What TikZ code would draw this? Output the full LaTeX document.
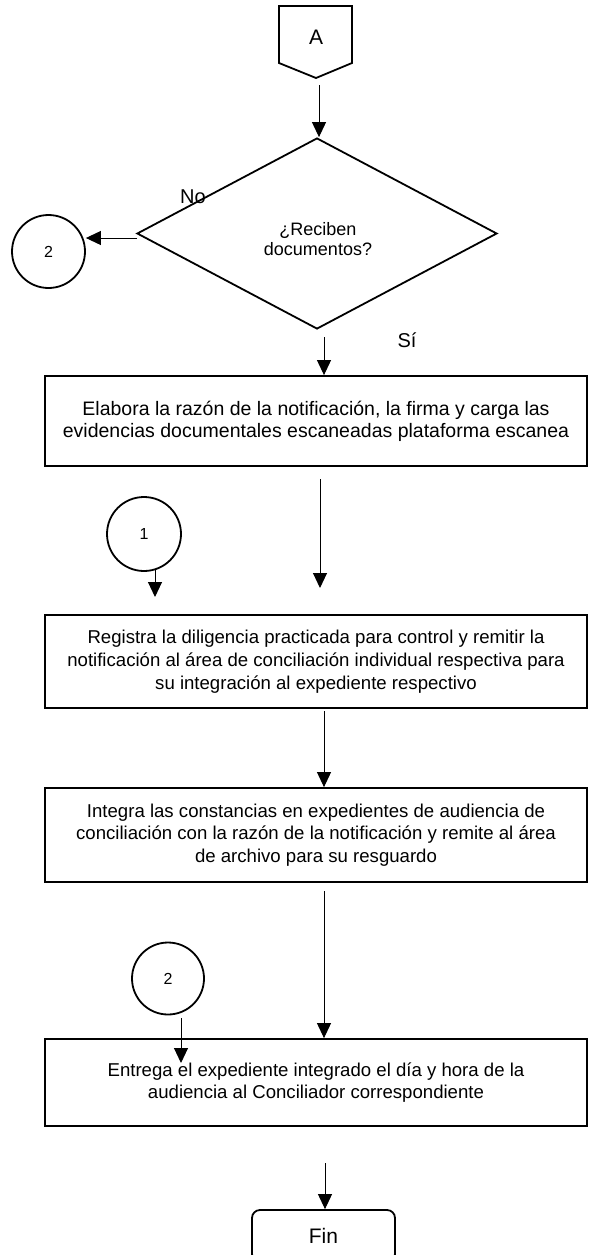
\documentclass[tikz,border=0pt]{standalone}
\usepackage{fontspec}
\setmainfont{Liberation Sans}
\usetikzlibrary{shapes.geometric,arrows.meta}
\begin{document}
\begin{tikzpicture}[x=1pt,y=-1pt,
  shapeline/.style={draw=black, line width=1.8pt},
  arr/.style={draw=black, line width=1pt, -{Triangle[width=14pt,length=15pt]}},
  procbox/.style={shapeline, rectangle, minimum width=542pt, inner sep=0pt, align=center,
    font=\fontsize{18.6}{22.8}\selectfont},
  conn/.style={shapeline, circle, inner sep=0pt, font=\fontsize{16}{18}\selectfont},
  lbl/.style={font=\fontsize{20}{24}\selectfont, inner sep=0pt}
]
\useasboundingbox (0,0) rectangle (589,1255);

% off-page connector A
\draw[shapeline, line join=miter] (279,6) -- (352,6) -- (352,63) -- (316,78) -- (279,63) -- cycle;
\node[lbl, font=\fontsize{21}{24}\selectfont] (A) at (316,37) {A};

% decision
\node[diamond, shapeline, minimum width=360pt, minimum height=191pt, inner sep=0pt] (dec) at (317,233.5) {};
\node[align=center, inner sep=0pt, font=\fontsize{18}{20.5}\selectfont] (dectxt) at (318,239) {¿Reciben\\documentos?};
\node[lbl] (no) at (193,197) {No};
\node[lbl] (si) at (407,340) {Sí};

% connector circles
\node[conn, minimum size=73pt] (c2a) at (48.5,251.5) {2};
\node[conn, minimum size=74pt] (c1) at (144,534) {1};
\node[conn, minimum size=72pt] (c2b) at (168,978.5) {2};

% process boxes
\node[procbox, minimum height=90pt, font=\fontsize{19.5}{22}\selectfont] (b1) at (316,421)
  {Elabora la razón de la notificación, la firma y carga las\\evidencias documentales escaneadas plataforma escanea};
\node[procbox, minimum height=93pt] (b2) at (316,661.5)
  {Registra la diligencia practicada para control y remitir la\\notificación al área de conciliación individual respectiva para\\su integración al expediente respectivo};
\node[procbox, minimum height=94pt] (b3) at (316,835)
  {Integra las constancias en expedientes de audiencia de\\conciliación con la razón de la notificación y remite al área\\de archivo para su resguardo};
\node[procbox, minimum height=87pt] (b4) at (316,1082.5)
  {Entrega el expediente integrado el día y hora de la\\audiencia al Conciliador correspondiente};
\node[shapeline, rectangle, rounded corners=8pt, minimum width=143pt, minimum height=52pt,
  inner sep=0pt, font=\fontsize{21}{24}\selectfont] (fin) at (323.5,1236) {Fin};

% connector end points
\coordinate (a0) at (319,85);
\coordinate (n0) at (137,238);
\coordinate (s1) at (324,337);
\coordinate (s2) at (320,479);
\coordinate (e2) at (320,588);
\coordinate (s3) at (155,570);
\coordinate (e3) at (155,597);
\coordinate (s4) at (324,711);
\coordinate (s5) at (324,891);
\coordinate (s6) at (181,1018);
\coordinate (e6) at (181,1063);
\coordinate (s7) at (325,1163);

% connectors
\draw[arr] (a0) -- (a0 |- dec.north);
\draw[arr] (n0) -- (n0 -| c2a.east);
\draw[arr] (s1) -- (s1 |- b1.north);
\draw[arr] (s2) -- (e2);
\draw[arr] (s3) -- (e3);
\draw[arr] (s4) -- (s4 |- b3.north);
\draw[arr] (s5) -- (s5 |- b4.north);
\draw[arr] (s6) -- (e6);
\draw[arr] (s7) -- (s7 |- fin.north);
\end{tikzpicture}
\end{document}
